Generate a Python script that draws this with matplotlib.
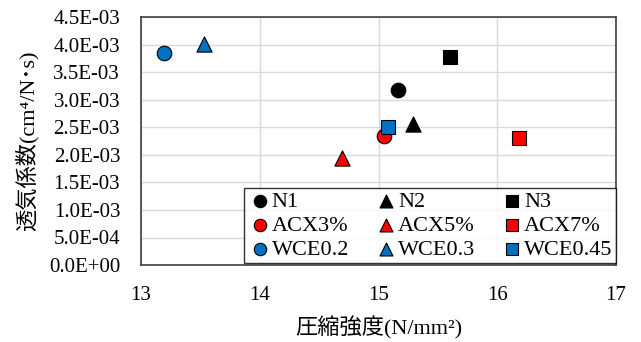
import matplotlib
matplotlib.use('Agg')
import matplotlib.pyplot as plt
from matplotlib.ticker import FuncFormatter, MultipleLocator

plt.rcParams['font.family'] = ['Liberation Serif', 'Noto Sans CJK JP']

# data: (圧縮強度, 透気係数)
labels = ['N1', 'ACX3%', 'WCE0.2', 'N2', 'ACX5%', 'WCE0.3', 'N3', 'ACX7%', 'WCE0.45']
strength = [15.16, 15.05, 13.19, 15.29, 14.69, 13.53, 15.60, 16.18, 15.08]
perm = [3.18e-3, 2.34e-3, 3.85e-3, 2.56e-3, 1.94e-3, 4.01e-3, 3.78e-3, 2.30e-3, 2.50e-3]
colors = ['#000000', '#FF0000', '#0070C0'] * 3
markers = ['o'] * 3 + ['^'] * 3 + ['s'] * 3

fig = plt.figure(figsize=(6.41, 3.42), dpi=100)
ax = fig.add_axes([0.22, 0.225, 0.741, 0.725])

for lab, x, y, c, m in zip(labels, strength, perm, colors, markers):
    ax.scatter([x], [y], marker=m, s=110 if m != '^' else 120, color=c,
               edgecolors='black', linewidths=0.8, label=lab, zorder=3)

ax.set_xlim(13, 17)
ax.set_ylim(0, 4.5e-3)
ax.xaxis.set_major_locator(MultipleLocator(1))
ax.yaxis.set_major_locator(MultipleLocator(0.5e-3))
ax.yaxis.set_major_formatter(FuncFormatter(lambda v, p: f'{v:.1E}'))
ax.grid(True, color='#d9d9d9', linewidth=1)
ax.set_axisbelow(True)
ax.tick_params(length=0, labelsize=15)
ax.tick_params(axis='y', pad=15)
ax.tick_params(axis='x', pad=15)
for s in ax.spines.values():
    s.set_color('#404040')
    s.set_linewidth(1.2)

ax.set_xlabel('圧縮強度(N/mm²)', fontsize=16, va='center')
ax.xaxis.set_label_coords(0.5, -0.255)
ax.set_ylabel('透気係数(cm⁴/N･s)', fontsize=16, va='center')
ax.yaxis.set_label_coords(-0.24, 0.5)

leg = ax.legend(ncol=3, loc='lower right', bbox_to_anchor=(1.0, 0.008),
                fontsize=16, frameon=True, fancybox=False, edgecolor='black',
                handletextpad=0.0, columnspacing=1.1, labelspacing=0.15,
                borderpad=0.15, handlelength=1.1, borderaxespad=0.0,
                markerscale=0.85)
leg.get_frame().set_linewidth(1.0)

fig.savefig('out.png', dpi=100)
